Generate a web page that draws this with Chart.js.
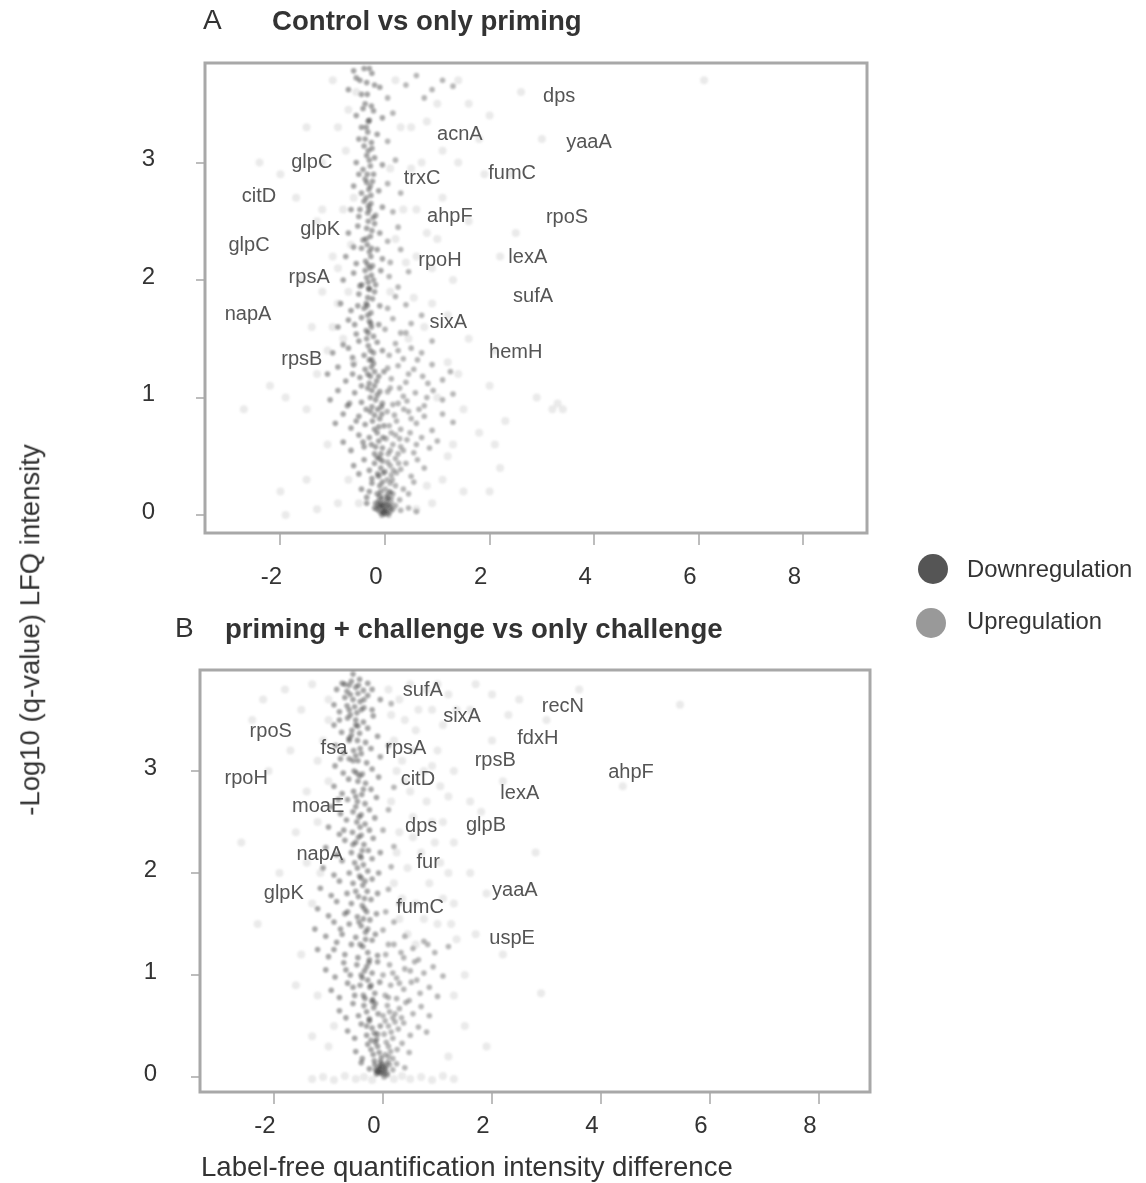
<!DOCTYPE html>
<html>
<head>
<meta charset="utf-8">
<script src="https://cdn.jsdelivr.net/npm/chart.js@4.4.1/dist/chart.umd.min.js"></script>
<style>
  html,body{margin:0;padding:0;background:#fff;}
  body{width:1146px;height:1183px;position:relative;overflow:hidden;font-family:"Liberation Sans",Arial,sans-serif;color:#333;}
  canvas{position:absolute;left:0;}
  .t{position:absolute;white-space:nowrap;line-height:1;}
  .dot{position:absolute;width:30px;height:30px;border-radius:50%;}
</style>
</head>
<body>
<canvas id="cA" width="1146" height="600" style="top:0;width:1146px;height:600px;"></canvas>
<canvas id="cB" width="1146" height="583" style="top:600px;width:1146px;height:583px;"></canvas>

<div class="t" style="left:203px;top:6px;font-size:28px;">A</div>
<div class="t" style="left:272px;top:7px;font-size:27.6px;font-weight:bold;">Control vs only priming</div>
<div class="t" style="left:175px;top:614px;font-size:28px;">B</div>
<div class="t" style="left:225px;top:615px;font-size:27.6px;font-weight:bold;">priming + challenge vs only challenge</div>
<div class="t" style="left:30px;top:630px;font-size:27.5px;transform:translate(-50%,-50%) rotate(-90deg);">-Log10 (q-value) LFQ intensity</div>
<div class="t" style="left:201px;top:1153px;font-size:27.6px;">Label-free quantification intensity difference</div>

<div class="dot" style="left:918px;top:554px;background:#555;"></div>
<div class="t" style="left:967px;top:557px;font-size:23.8px;">Downregulation</div>
<div class="dot" style="left:916px;top:608px;background:#999;"></div>
<div class="t" style="left:967px;top:609px;font-size:23.8px;">Upregulation</div>

<script>
// ---------------- DATA ----------------
const X_TICKS = [-2, 0, 2, 4, 6, 8];
const Y_TICKS = [0, 1, 2, 3];

// Panel A: Control vs only priming
const A_DOWN = [
[-0.2,0.06],[-0.1,0.03],[-0.05,0.08],[-0.02,0.02],[-0.35,0.1],[-0.12,0.12],[-0.06,0.0],
[-0.45,0.22],[-0.35,0.15],[-0.25,0.27],[-0.15,0.18],[-0.1,0.25],[-0.05,0.14],[-0.3,0.2],[-0.18,0.1],[-0.08,0.2],
[-0.6,0.42],[-0.5,0.35],[-0.4,0.47],[-0.3,0.38],[-0.2,0.44],[-0.12,0.33],[-0.05,0.46],[-0.25,0.31],[-0.15,0.49],[-0.08,0.4],
[-0.8,0.62],[-0.65,0.55],[-0.5,0.68],[-0.4,0.58],[-0.3,0.66],[-0.2,0.52],[-0.12,0.63],[-0.05,0.57],[-0.26,0.6],[-0.15,0.7],[-0.08,0.52],
[-0.95,0.78],[-0.8,0.86],[-0.65,0.74],[-0.5,0.84],[-0.38,0.77],[-0.28,0.88],[-0.2,0.73],[-0.1,0.82],[-0.02,0.76],[-0.24,0.8],[-0.14,0.9],[-0.06,0.86],
[-1.05,0.98],[-0.9,1.06],[-0.72,0.93],[-0.58,1.04],[-0.45,0.96],[-0.33,1.08],[-0.25,0.92],[-0.15,1.02],[-0.05,0.95],[-0.28,1.0],[-0.2,1.1],[-0.1,1.05],
[-1.1,1.2],[-0.9,1.26],[-0.75,1.14],[-0.6,1.28],[-0.48,1.17],[-0.38,1.24],[-0.3,1.12],[-0.22,1.29],[-0.12,1.18],[-0.02,1.22],[-0.33,1.2],[-0.26,1.26],
[-1.0,1.38],[-0.8,1.45],[-0.62,1.34],[-0.5,1.48],[-0.4,1.36],[-0.32,1.44],[-0.25,1.32],[-0.15,1.47],[-0.05,1.4],[-0.35,1.5],[-0.28,1.4],
[-0.9,1.6],[-0.7,1.66],[-0.55,1.54],[-0.45,1.68],[-0.36,1.57],[-0.3,1.65],[-0.22,1.52],[-0.12,1.62],[-0.33,1.7],[-0.26,1.6],
[-0.85,1.8],[-0.65,1.74],[-0.5,1.88],[-0.4,1.76],[-0.33,1.85],[-0.27,1.72],[-0.2,1.9],[-0.1,1.78],[-0.36,1.8],[-0.3,1.92],
[-0.8,2.0],[-0.6,2.06],[-0.48,1.95],[-0.38,2.08],[-0.32,1.98],[-0.26,2.04],[-0.18,1.96],[-0.08,2.08],[-0.35,2.02],[-0.29,2.1],
[-0.75,2.2],[-0.55,2.14],[-0.45,2.27],[-0.37,2.16],[-0.3,2.24],[-0.24,2.12],[-0.15,2.26],[-0.05,2.18],[-0.34,2.3],[-0.27,2.2],
[-0.7,2.4],[-0.52,2.46],[-0.42,2.34],[-0.35,2.44],[-0.28,2.37],[-0.2,2.48],[-0.1,2.4],[-0.32,2.5],[-0.25,2.42],
[-0.65,2.6],[-0.5,2.54],[-0.4,2.67],[-0.33,2.57],[-0.27,2.65],[-0.18,2.55],[-0.05,2.62],[-0.36,2.7],[-0.3,2.6],
[-0.6,2.8],[-0.45,2.74],[-0.38,2.86],[-0.31,2.77],[-0.24,2.84],[-0.12,2.76],[-0.34,2.9],[-0.28,2.8],
[-0.55,3.0],[-0.42,2.94],[-0.35,3.06],[-0.28,2.97],[-0.2,3.04],[-0.05,2.98],[-0.32,3.1],
[-0.5,3.2],[-0.4,3.14],[-0.33,3.26],[-0.26,3.17],[-0.15,3.24],[-0.36,3.3],
[-0.55,3.4],[-0.42,3.46],[-0.32,3.35],[-0.22,3.44],[-0.05,3.38],[-0.38,3.5],
[-0.7,3.62],[-0.55,3.72],[-0.45,3.58],[-0.35,3.68],[-0.25,3.76],[-0.1,3.64],[-0.6,3.78],[-0.4,3.8],
[-0.32,1.55],[-0.27,1.63],[-0.34,1.78],[-0.24,1.84],[-0.31,1.93],[-0.22,2.0],[-0.33,2.13],[-0.26,2.27],[-0.36,2.35],[-0.23,2.53],
[-0.32,2.63],[-0.27,2.72],[-0.35,2.83],[-0.22,2.9],[-0.3,3.02],[-0.25,3.12],[-0.38,3.2],[-0.3,3.36],[-0.26,3.48],[-0.34,3.58],
[-0.2,3.66],[-0.48,3.7],[-0.3,3.8],
[-0.15,0.05],[-0.08,0.1],[-0.03,0.06],[-0.1,0.16],[-0.05,0.28],[-0.14,0.35],[-0.03,0.36],[-0.1,0.48],[-0.18,0.58],[-0.04,0.66],
[-0.12,0.75],[-0.2,0.85],[-0.07,0.92],[-0.18,0.98],[-0.25,1.06],[-0.16,1.14],[-0.28,1.18],[-0.2,1.22],[-0.3,1.32],[-0.22,1.38],
[-0.42,0.62],[-0.55,0.8],[-0.68,0.95],[-0.36,0.9],[-0.45,1.1],[-0.62,1.2],[-0.7,1.42],[-0.58,1.62],[-0.52,1.78],[-0.44,1.96],
[-0.6,2.28],[-0.48,2.6],[-0.5,2.9],[-0.45,3.3],
[-0.04,0.03],[-0.09,0.07],[-0.01,0.1],[-0.13,0.08]
];
const A_UP = [
[0,0.01],[0.02,0.04],[0.05,0.02],[0.08,0.07],[0.1,0.03],[0.12,0.1],[0.15,0.05],[0.2,0.08],[0.3,0.04],[0.45,0.06],[0.6,0.03],[0.04,0.12],[0.07,0.0],
[0,0.22],[0.05,0.15],[0.1,0.27],[0.15,0.18],[0.2,0.25],[0.28,0.13],[0.35,0.22],[0.45,0.18],[0.55,0.28],[0.08,0.2],[0.12,0.14],
[0,0.37],[0.05,0.45],[0.12,0.34],[0.2,0.48],[0.3,0.39],[0.4,0.44],[0.5,0.33],[0.62,0.47],[0.75,0.4],[0.1,0.42],[0.16,0.38],
[0.02,0.65],[0.1,0.55],[0.2,0.68],[0.3,0.58],[0.42,0.64],[0.55,0.53],[0.7,0.66],[0.85,0.57],[1.0,0.63],[0.15,0.6],[0.25,0.52],
[0.08,0.76],[0.18,0.85],[0.3,0.73],[0.45,0.88],[0.6,0.78],[0.75,0.84],[0.9,0.72],[1.1,0.86],[1.3,0.79],[0.22,0.8],[0.36,0.9],
[0.05,1.05],[0.15,0.94],[0.28,1.08],[0.42,0.97],[0.58,1.04],[0.75,0.93],[0.92,1.06],[1.1,0.98],[1.3,1.03],[0.35,1.01],
[0.12,1.16],[0.25,1.27],[0.4,1.13],[0.55,1.24],[0.72,1.18],[0.9,1.28],[1.1,1.15],[1.25,1.22],[0.05,1.25],
[0.08,1.36],[0.2,1.46],[0.35,1.33],[0.5,1.42],[0.7,1.38],[0.9,1.48],
[0.0,1.58],[0.15,1.67],[0.3,1.55],[0.5,1.63],[0.7,1.7],
[0.05,1.76],[0.2,1.86],[0.4,1.79],
[0.08,2.03],[0.25,1.94],[0.45,2.07],
[0.1,2.15],[0.3,2.26],[0.05,2.33],[0.25,2.45],[0.15,2.58],[0.05,2.82],[0.3,2.74],[0.2,3.02],[0.05,3.18],[0.15,3.42],
[0.05,3.55],[0.4,3.66],[0.6,3.74],[0.9,3.62],[1.1,3.7],[1.3,3.65],[0.75,3.55],
[0.03,0.08],[0.06,0.14],[0.1,0.19],[0.04,0.3],[0.14,0.3],[0.22,0.36],[0.06,0.52],[0.26,0.44],[0.35,0.55],[0.12,0.7],
[0.28,0.65],[0.48,0.7],[0.6,0.6],[0.04,0.88],[0.25,0.95],[0.5,0.82],[0.65,0.9],[0.8,1.0],[0.1,1.08],[0.45,1.2],
[0.62,1.32],[0.82,1.12],[0.25,1.4],[0.4,1.55],
[0.01,0.05],[0.06,0.09],[0.03,0.17],[0.11,0.06]
];
const A_FAINT = [
[-2.2,1.1],[-1.9,1.0],[-2.0,0.2],[-1.5,0.3],[-1.7,2.7],[-2.0,2.9],[-1.2,3.0],[-1.0,2.2],[-1.4,1.6],[-0.9,1.8],[-1.6,2.0],[-2.4,3.0],
[-1.3,2.5],[-1.1,1.4],[-0.9,3.3],[-1.0,3.7],[-1.5,0.9],[-2.7,0.9],[-0.9,0.1],[-1.3,0.05],[-1.9,0.0],[-0.8,2.6],[-1.2,1.9],
[1.0,3.5],[1.4,3.0],[1.6,2.5],[2.0,1.1],[2.3,0.8],[2.2,0.4],[1.5,0.2],[1.8,0.7],[3.2,0.9],[3.4,0.9],[2.0,3.4],[2.6,3.6],[1.8,3.2],
[1.3,2.0],[1.6,1.5],[2.5,2.4],[2.9,1.0],[6.1,3.7],[1.2,0.5],[0.9,0.1],[0.6,0.05],[1.0,1.0],[1.2,1.3],[2.1,1.4],[2.4,2.9],[3.0,3.2],
[0.8,2.4],[0.7,3.0],[1.1,2.7],[0.9,1.8],[0.6,2.2],[1.4,3.7],[0.5,3.3],
[-0.8,1.5],[-0.7,1.9],[-0.65,2.3],[-0.6,2.7],[-0.75,3.1],[-0.7,3.45],[-0.9,2.1],[-1.0,1.6],[-0.55,3.6],[-0.6,1.3],
[0.1,1.9],[0.2,2.35],[0.35,2.6],[0.1,2.95],[0.3,3.3],[0.2,3.7],[0.45,1.5],[0.55,1.85],[0.4,2.15],[0.6,2.6],
[0.5,2.95],[0.8,3.35],[1.1,3.1],[0.9,2.1],[1.2,1.7],[1.4,1.2],[1.5,0.9],[1.3,0.6],[1.1,0.3],[0.8,0.25],
[-0.7,0.3],[-0.5,0.1],[-1.1,0.6],[-1.3,1.2],[-1.2,2.6],[-1.5,3.3],[1.0,2.35],[0.75,1.6],[1.6,3.5],[1.9,2.9],
[2.2,2.2],[2.1,0.6],[2.0,0.2],[3.3,0.95]
];
const A_GENES = ['dps','acnA','yaaA','glpC','trxC','fumC','citD','ahpF','rpoS','glpK','glpC','rpoH','lexA','rpsA','sufA','napA','sixA','hemH','rpsB'];
const A_GX = [3.33,1.43,3.90,-1.40,0.71,2.43,-2.41,1.24,3.48,-1.24,-2.60,1.05,2.73,-1.45,2.83,-2.62,1.21,2.50,-1.59];
const A_GY = [3.56,3.24,3.17,3.00,2.86,2.91,2.71,2.54,2.53,2.43,2.29,2.17,2.19,2.02,1.86,1.71,1.64,1.38,1.32];

// Panel B: priming + challenge vs only challenge
const B_DOWN = [
[-0.25,0.08],[-0.15,0.12],[-0.08,0.05],[-0.03,0.1],[-0.4,0.14],[-0.12,0.03],[-0.05,0.15],
[-0.5,0.25],[-0.38,0.18],[-0.28,0.32],[-0.18,0.22],[-0.1,0.3],[-0.03,0.19],[-0.22,0.27],[-0.14,0.34],
[-0.65,0.45],[-0.52,0.38],[-0.4,0.52],[-0.3,0.41],[-0.2,0.48],[-0.12,0.37],[-0.05,0.5],[-0.25,0.55],[-0.16,0.43],
[-0.8,0.65],[-0.68,0.58],[-0.55,0.72],[-0.45,0.6],[-0.35,0.7],[-0.25,0.57],[-0.17,0.68],[-0.09,0.62],[-0.3,0.64],[-0.2,0.74],
[-0.95,0.85],[-0.8,0.78],[-0.65,0.92],[-0.52,0.8],[-0.42,0.9],[-0.33,0.77],[-0.24,0.88],[-0.15,0.82],[-0.06,0.93],[-0.28,0.95],[-0.19,0.76],
[-1.05,1.05],[-0.88,0.98],[-0.72,1.12],[-0.6,1.0],[-0.48,1.1],[-0.38,0.97],[-0.3,1.08],[-0.2,1.02],[-0.1,1.13],[-0.25,1.15],[-0.34,1.04],
[-1.2,1.25],[-1.0,1.18],[-0.85,1.32],[-0.7,1.2],[-0.58,1.3],[-0.46,1.17],[-0.37,1.28],[-0.28,1.22],[-0.2,1.34],[-0.1,1.19],[-0.32,1.35],
[-1.25,1.45],[-1.05,1.38],[-0.9,1.52],[-0.75,1.4],[-0.62,1.5],[-0.5,1.37],[-0.4,1.48],[-0.32,1.42],[-0.24,1.54],[-0.14,1.4],[-0.36,1.55],
[-1.2,1.65],[-1.0,1.58],[-0.85,1.72],[-0.7,1.6],[-0.58,1.7],[-0.47,1.57],[-0.38,1.68],[-0.3,1.62],[-0.22,1.74],[-0.12,1.6],[-0.34,1.75],
[-1.15,1.85],[-0.95,1.78],[-0.8,1.92],[-0.66,1.8],[-0.55,1.9],[-0.45,1.77],[-0.37,1.88],[-0.29,1.82],[-0.2,1.94],[-0.1,1.8],[-0.4,1.95],
[-1.1,2.05],[-0.9,1.98],[-0.75,2.12],[-0.62,2.0],[-0.52,2.1],[-0.43,1.97],[-0.36,2.08],[-0.28,2.02],[-0.2,2.14],[-0.08,2.0],[-0.4,2.15],
[-1.05,2.25],[-0.85,2.18],[-0.7,2.32],[-0.58,2.2],[-0.5,2.3],[-0.42,2.17],[-0.35,2.28],[-0.27,2.22],[-0.18,2.34],[-0.05,2.2],[-0.45,2.35],
[-1.0,2.45],[-0.8,2.38],[-0.67,2.52],[-0.56,2.4],[-0.48,2.5],[-0.4,2.37],[-0.33,2.48],[-0.25,2.42],[-0.15,2.54],[-0.44,2.55],
[-0.95,2.65],[-0.78,2.58],[-0.65,2.72],[-0.55,2.6],[-0.47,2.7],[-0.4,2.57],[-0.33,2.68],[-0.25,2.62],[-0.12,2.74],[-0.5,2.75],
[-0.9,2.85],[-0.75,2.78],[-0.63,2.92],[-0.54,2.8],[-0.46,2.9],[-0.39,2.77],[-0.32,2.88],[-0.22,2.82],[-0.08,2.94],[-0.43,2.95],
[-0.88,3.05],[-0.73,2.98],[-0.62,3.12],[-0.53,3.0],[-0.46,3.1],[-0.38,2.97],[-0.3,3.08],[-0.2,3.02],[-0.05,3.14],[-0.5,3.15],
[-0.87,3.25],[-0.72,3.18],[-0.62,3.32],[-0.54,3.2],[-0.47,3.3],[-0.4,3.17],[-0.32,3.28],[-0.22,3.22],[-0.1,3.34],[-0.58,3.35],
[-0.9,3.45],[-0.76,3.38],[-0.65,3.52],[-0.57,3.4],[-0.5,3.5],[-0.43,3.37],[-0.36,3.48],[-0.28,3.42],[-0.18,3.54],[-0.6,3.55],[-0.46,3.44],
[-0.9,3.65],[-0.8,3.58],[-0.7,3.72],[-0.62,3.6],[-0.55,3.7],[-0.48,3.57],[-0.42,3.68],[-0.35,3.62],[-0.28,3.74],[-0.2,3.6],[-0.05,3.7],[-0.66,3.64],[-0.52,3.63],
[-0.85,3.8],[-0.75,3.86],[-0.66,3.78],[-0.58,3.88],[-0.5,3.82],[-0.43,3.9],[-0.36,3.79],[-0.28,3.86],[-0.2,3.8],[-0.62,3.84],[-0.46,3.76],
[-0.4,3.6],[-0.6,3.75],[-0.7,3.85],[-0.55,3.95],[-0.45,3.84],[-0.35,3.7],[-0.5,3.45],[-0.62,3.3],[-0.55,3.1],[-0.42,3.22],
[-0.48,2.98],[-0.36,2.82],[-0.5,2.65],[-0.42,2.45],[-0.55,2.28],[-0.38,2.22],[-0.47,2.05],[-0.33,1.92],[-0.5,1.82],[-0.34,1.65],
[-0.44,1.52],[-0.28,1.45],[-0.42,1.3],[-0.26,1.12],[-0.4,1.0],[-0.22,0.9],[-0.36,0.8],[-0.14,0.72],[-0.3,0.5],[-0.1,0.42],
[-0.22,0.36],[-0.07,0.24],[-0.16,0.16],[-0.05,0.08],[-0.1,0.06],[-0.65,1.62],[-0.78,1.45],[-0.9,1.25],[-0.68,1.05],[-0.55,0.88],
[-0.72,2.42],[-0.82,2.72],[-0.78,3.12],[-0.8,3.5],
[-0.04,0.04],[-0.08,0.1],[-0.02,0.13],[-0.14,0.07]
];
const B_UP = [
[0,0.05],[0.03,0.1],[0.07,0.04],[0.12,0.12],[0.18,0.07],[0.25,0.13],[0.4,0.09],[0.02,0.0],[0.09,0.15],
[0.04,0.22],[0.1,0.3],[0.18,0.18],[0.26,0.27],[0.35,0.33],[0.48,0.24],[0.14,0.25],
[0.02,0.42],[0.1,0.5],[0.18,0.38],[0.28,0.47],[0.38,0.53],[0.5,0.41],[0.65,0.49],[0.8,0.44],[0.22,0.54],
[0,0.6],[0.08,0.7],[0.18,0.58],[0.3,0.67],[0.42,0.73],[0.55,0.62],[0.7,0.69],[0.85,0.6],[0.12,0.64],
[0.04,0.8],[0.14,0.9],[0.25,0.77],[0.38,0.86],[0.52,0.93],[0.68,0.82],[0.85,0.88],[1.0,0.79],
[0,1.0],[0.12,1.1],[0.25,0.97],[0.4,1.06],[0.58,1.13],[0.75,1.02],[0.92,1.08],[1.1,0.99],
[0.05,1.2],[0.2,1.3],[0.38,1.17],[0.55,1.26],[0.75,1.33],[0.95,1.22],[1.2,1.28],
[0,1.44],[0.2,1.52],[0.4,1.38],[0.05,1.62],[0.3,1.7],[0.1,1.84],[0.15,2.06],[0.2,2.26],[0,2.42],[0.1,2.62],[0.2,2.84],[0.1,3.25],[0.15,3.66],
[0.02,0.07],[0.05,0.12],[0.1,0.2],[0.06,0.34],[0.15,0.44],[0.04,0.55],[0.22,0.62],[0.34,0.58],[0.1,0.78],[0.3,0.92],
[0.48,0.75],[0.62,0.95],[0.18,1.02],[0.33,1.22],[0.5,1.04],[0.1,1.3],[0.65,1.15],[0.82,1.3],
[0.01,0.03],[0.05,0.08],[0.08,0.02]
];
const B_FAINT = [
[0.1,3.8],[0.3,3.7],[0.5,3.85],[0.9,3.6],[1.2,3.75],[0.2,3.3],[0.6,3.4],[1.0,3.2],[1.3,3.0],[0.4,2.9],[0.8,2.7],[1.1,2.5],[0.3,2.4],
[0.7,2.2],[1.2,2.0],[0.2,1.9],[0.6,1.7],[1.0,1.5],[1.35,1.35],[0.45,1.4],[0.35,3.1],[0.75,3.0],[1.05,2.85],[0.55,2.55],[0.95,2.3],
[0.45,2.05],[0.85,1.9],[1.3,1.7],[0.65,3.6],[1.0,3.85],
[1.6,3.6],[2.0,3.3],[2.2,2.9],[1.8,2.6],[2.5,3.7],[3.0,3.5],[2.8,2.2],[1.6,2.0],[2.9,0.82],[5.45,3.65],[4.4,2.85],[2.2,1.2],[1.9,0.3],
[3.6,3.8],[1.5,1.0],[1.7,3.85],[2.3,3.55],
[-2.4,3.5],[-2.2,3.7],[-1.8,3.8],[-1.5,3.6],[-2.1,3.0],[-1.6,2.4],[-1.9,2.0],[-1.4,2.8],[-2.3,1.5],[-1.5,1.2],[-1.3,0.4],[-1.6,0.9],
[-2.6,2.3],[-1.7,3.2],[-1.3,3.85],[-1.4,2.1],
[-1.3,-0.02],[-1.1,0.0],[-0.9,-0.03],[-0.7,0.01],[-0.5,-0.02],[-0.35,0.0],[-0.2,-0.03],[0.2,-0.02],[0.35,0.01],[0.5,-0.02],[0.7,0.0],
[0.9,-0.03],[1.1,0.01],[1.3,-0.02],
[0.15,3.55],[0.4,3.5],[0.8,3.8],[1.1,3.45],[1.35,3.6],[0.25,3.0],[0.55,3.2],[0.9,3.05],[1.2,2.75],[0.15,2.7],
[0.5,2.8],[0.9,2.5],[1.3,2.3],[0.25,2.2],[0.55,2.35],[1.05,2.1],[0.35,1.75],[0.75,1.55],[1.1,1.75],[0.3,1.55],
[0.6,1.3],[1.25,1.5],[-1.0,3.7],[-1.1,3.3],[-1.0,2.9],[-1.2,2.5],[-1.15,2.0],[-1.3,1.7],[-1.0,3.5],[-1.2,3.1],
[1.5,0.5],[1.3,0.8],[1.2,0.2],[-1.0,0.3],[-1.2,0.8],[-0.9,0.5],[1.7,1.4],[1.9,1.8],[1.6,2.7],[2.0,3.75]
];
const B_GENES = ['sufA','sixA','recN','rpoS','fdxH','fsa','rpsA','rpsB','ahpF','rpoH','citD','lexA','moaE','dps','glpB','napA','fur','glpK','yaaA','fumC','uspE'];
const B_GX = [0.73,1.45,3.30,-2.06,2.84,-0.90,0.42,2.06,4.55,-2.51,0.64,2.51,-1.19,0.70,1.89,-1.16,0.83,-1.82,2.42,0.68,2.37];
const B_GY = [3.79,3.53,3.63,3.39,3.32,3.22,3.22,3.10,2.99,2.93,2.92,2.78,2.65,2.46,2.47,2.18,2.10,1.80,1.83,1.66,1.36];

// ---------------- RENDERING ----------------
const FONT = '"Liberation Sans", Arial, sans-serif';
const pts = arr => arr.map(p => ({x: p[0], y: p[1]}));

const framePlugin = {
  id: 'frame',
  beforeDatasetsDraw(chart) {
    const {ctx, chartArea: a} = chart;
    ctx.save();
    ctx.strokeStyle = '#a8a8a8';
    ctx.lineWidth = 3;
    ctx.strokeRect(a.left, a.top, a.right - a.left, a.bottom - a.top);
    ctx.restore();
  },
  beforeDatasetDraw(chart) {
    chart.ctx.save();
    chart.ctx.filter = 'blur(0.9px)';
  },
  afterDatasetDraw(chart) {
    chart.ctx.restore();
  }
};
const genePlugin = {
  id: 'genes',
  afterDatasetsDraw(chart, args, opts) {
    const {ctx, scales} = chart;
    ctx.save();
    ctx.filter = 'none';
    ctx.font = '20px ' + FONT;
    ctx.fillStyle = '#555';
    ctx.textAlign = 'center';
    ctx.textBaseline = 'middle';
    opts.names.forEach((n, i) => {
      ctx.fillText(n, scales.x.getPixelForValue(opts.xs[i]), scales.y.getPixelForValue(opts.ys[i]));
    });
    ctx.restore();
  }
};

function makeChart(id, cfg) {
  return new Chart(document.getElementById(id), {
    type: 'scatter',
    data: {
      datasets: [
        {label: 'faint', data: pts(cfg.faint), backgroundColor: 'rgba(150,150,150,0.2)', borderWidth: 0, pointRadius: 4},
        {label: 'Upregulation', data: pts(cfg.up), backgroundColor: 'rgba(55,55,55,0.36)', borderWidth: 0, pointRadius: 2.8},
        {label: 'Downregulation', data: pts(cfg.down), backgroundColor: 'rgba(35,35,35,0.40)', borderWidth: 0, pointRadius: 2.8}
      ]
    },
    options: {
      responsive: false,
      animation: false,
      devicePixelRatio: 1,
      layout: {padding: cfg.padding},
      plugins: {
        legend: {display: false},
        tooltip: {enabled: false},
        genes: {names: cfg.names, xs: cfg.gx, ys: cfg.gy}
      },
      scales: {
        x: {
          type: 'linear', min: cfg.xmin, max: cfg.xmax,
          afterBuildTicks: s => { s.ticks = X_TICKS.map(v => ({value: v})); },
          afterFit: s => { s.height = cfg.xh; },
          grid: {drawOnChartArea: false, drawTicks: true, tickLength: 12, color: '#bdbdbd', lineWidth: 2},
          border: {display: false},
          ticks: {font: {size: 24, family: FONT}, color: '#333', padding: cfg.xpad, labelOffset: -9, maxRotation: 0}
        },
        y: {
          type: 'linear', min: cfg.ymin, max: cfg.ymax,
          afterBuildTicks: s => { s.ticks = Y_TICKS.map(v => ({value: v})); },
          afterFit: s => { s.width = cfg.yw; },
          grid: {drawOnChartArea: false, drawTicks: true, tickLength: 9, color: '#bdbdbd', lineWidth: 2},
          border: {display: false},
          ticks: {font: {size: 24, family: FONT}, color: '#333', padding: cfg.ypad, labelOffset: -3}
        }
      }
    },
    plugins: [framePlugin, genePlugin]
  });
}

makeChart('cA', {
  down: A_DOWN, up: A_UP, faint: A_FAINT, names: A_GENES, gx: A_GX, gy: A_GY,
  xmin: -3.442, xmax: 9.216, ymin: -0.153, ymax: 3.847,
  padding: {left: 0, top: 63, right: 279, bottom: 0}, xh: 67, yw: 205, xpad: 18, ypad: 41
});
makeChart('cB', {
  down: B_DOWN, up: B_UP, faint: B_FAINT, names: B_GENES, gx: B_GX, gy: B_GY,
  xmin: -3.358, xmax: 8.936, ymin: -0.147, ymax: 3.99,
  padding: {left: 0, top: 70, right: 276, bottom: 0}, xh: 91, yw: 200, xpad: 8, ypad: 34
});
</script>
</body>
</html>
